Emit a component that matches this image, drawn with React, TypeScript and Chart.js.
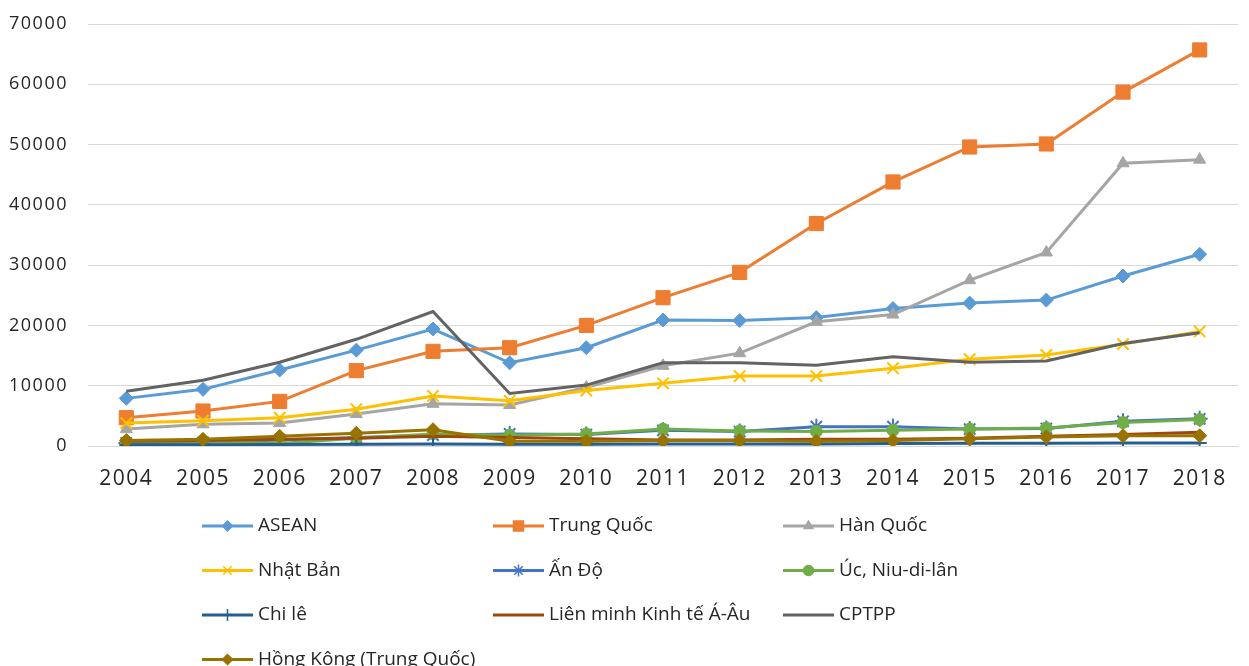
import { useEffect, useRef } from 'react';
import { Chart, registerables } from 'chart.js';
import { drawPoint } from 'chart.js/helpers';

Chart.register(...registerables);

const years = ['2004', '2005', '2006', '2007', '2008', '2009', '2010', '2011', '2012', '2013', '2014', '2015', '2016', '2017', '2018'];

const asean = [7900, 9400, 12600, 15900, 19400, 13800, 16300, 20900, 20800, 21300, 22800, 23700, 24200, 28200, 31800];
const trungQuoc = [4700, 5800, 7400, 12500, 15700, 16300, 20000, 24600, 28800, 36900, 43800, 49600, 50100, 58700, 65700];
const hanQuoc = [2800, 3600, 3800, 5300, 7000, 6800, 9700, 13300, 15400, 20600, 21800, 27500, 32100, 46900, 47500];
const nhatBan = [3800, 4200, 4700, 6100, 8300, 7500, 9200, 10400, 11600, 11600, 12900, 14400, 15100, 16900, 19000];
const anDo = [500, 600, 1000, 1400, 1800, 2000, 1900, 2600, 2400, 3200, 3200, 2800, 2900, 4100, 4500];
const ucNiuDiLan = [700, 800, 400, 1300, 2000, 1800, 2000, 2800, 2500, 2400, 2600, 2800, 3000, 3900, 4400];
const chiLe = [150, 200, 250, 300, 350, 300, 300, 350, 350, 350, 400, 450, 450, 500, 500];
const lienMinh = [800, 900, 1100, 1300, 1600, 1400, 1200, 1000, 1000, 1100, 1100, 1300, 1600, 1900, 2300];
const cptpp = [9100, 10900, 13900, 17700, 22300, 8700, 10100, 13800, 13800, 13400, 14800, 13900, 14100, 17000, 18800];
const hongKong = [900, 1100, 1600, 2100, 2700, 800, 800, 900, 900, 800, 900, 1200, 1500, 1700, 1700];

const seriesNames = ['ASEAN', 'Trung Quốc', 'Hàn Quốc', 'Nhật Bản', 'Ấn Độ', 'Úc, Niu-di-lân', 'Chi lê', 'Liên minh Kinh tế Á-Âu', 'CPTPP', 'Hồng Kông (Trung Quốc)'];
const seriesData = [asean, trungQuoc, hanQuoc, nhatBan, anDo, ucNiuDiLan, chiLe, lienMinh, cptpp, hongKong];
const seriesColors = ['#5B9BD5', '#ED7D31', '#A5A5A5', '#FFC000', '#4472C4', '#70AD47', '#255E91', '#9E480E', '#636363', '#997300'];
const pointStyles = ['rectRot', 'rect', 'triangle', 'crossRot', 'star', 'circle', 'cross', 'circle', 'circle', 'rectRot'];
const pointRadii = [7, 10, 7, 8, 8, 6, 7, 0, 0, 7];
const legendRadii = [5, 7, 5, 6, 6, 5, 6, 0, 0, 5];

const yMin = 0;
const yMax = 70000;
const yStep = 10000;

const legendCols = [202, 493, 783];
const legendRows = [526, 570.5, 615, 659.5];

const legendPlugin = {
  id: 'customLegend',
  beforeDraw(chart: any) {
    chart.ctx.letterSpacing = '1.5px';
  },
  afterDraw(chart: any) {
    const ctx = chart.ctx;
    ctx.save();
    ctx.letterSpacing = '0px';
    chart.data.datasets.forEach((ds: any, i: number) => {
      const col = i % 3;
      const row = Math.floor(i / 3);
      const x0 = legendCols[col];
      const y = legendRows[row];
      ctx.strokeStyle = ds.borderColor;
      ctx.lineWidth = 3;
      ctx.lineCap = 'butt';
      ctx.beginPath();
      ctx.moveTo(x0, y);
      ctx.lineTo(x0 + 51, y);
      ctx.stroke();
      if (legendRadii[i] > 0) {
        ctx.fillStyle = ds.borderColor;
        ctx.strokeStyle = ds.borderColor;
        ctx.lineWidth = 1.5;
        drawPoint(ctx, { pointStyle: pointStyles[i], radius: legendRadii[i], rotation: 0, borderWidth: 1.5 }, x0 + 25.5, y);
      }
      ctx.fillStyle = '#262626';
      ctx.font = '19px "Open Sans"';
      ctx.textAlign = 'left';
      ctx.textBaseline = 'middle';
      ctx.fillText(seriesNames[i], x0 + 56, y);
    });
    ctx.restore();
  },
};

export default function App() {
  const canvasRef = useRef<HTMLCanvasElement | null>(null);

  useEffect(() => {
    const canvas = canvasRef.current;
    if (!canvas) return;
    const datasets = seriesData.map((d, i) => ({
      label: seriesNames[i],
      data: d,
      borderColor: seriesColors[i],
      backgroundColor: seriesColors[i],
      borderWidth: 3,
      pointStyle: pointStyles[i],
      pointRadius: pointRadii[i],
      pointHoverRadius: pointRadii[i],
      pointBorderWidth: pointStyles[i] === 'crossRot' || pointStyles[i] === 'star' || pointStyles[i] === 'cross' ? 2 : 1,
      pointBackgroundColor: seriesColors[i],
      pointBorderColor: seriesColors[i],
      tension: 0,
      fill: false,
      order: seriesData.length - i,
    }));
    const chart = new Chart(canvas, {
      type: 'line',
      data: { labels: years, datasets },
      options: {
        responsive: false,
        animation: false,
        devicePixelRatio: 1,
        layout: { padding: { top: 24, left: 0, right: 7, bottom: 180 } },
        plugins: { legend: { display: false }, tooltip: { enabled: false } },
        scales: {
          x: {
            offset: true,
            grid: { display: false, drawTicks: false },
            border: { display: true, color: '#D9D9D9', width: 1 },
            ticks: { color: '#262626', font: { family: 'Open Sans', size: 21 }, padding: 20, maxRotation: 0, autoSkip: false },
            afterFit: (scale: any) => { scale.height = 40; scale.paddingLeft = 0; scale.paddingRight = 0; },
          },
          y: {
            min: yMin,
            max: yMax,
            grid: { color: '#D9D9D9', lineWidth: 1, drawTicks: false },
            border: { display: false },
            ticks: { stepSize: yStep, color: '#262626', font: { family: 'Open Sans', size: 18 }, padding: 20, callback: (v: any) => String(v) },
            afterFit: (scale: any) => { scale.width = 88; scale.paddingTop = 0; scale.paddingBottom = 0; },
          },
        },
      },
      plugins: [legendPlugin],
    });
    return () => chart.destroy();
  }, []);

  return (
    <div style={{ position: 'fixed', left: 0, top: 0, width: 1249, height: 666, background: '#fff' }}>
      <canvas ref={canvasRef} width={1249} height={666} style={{ display: 'block', width: 1249, height: 666 }} />
    </div>
  );
}
